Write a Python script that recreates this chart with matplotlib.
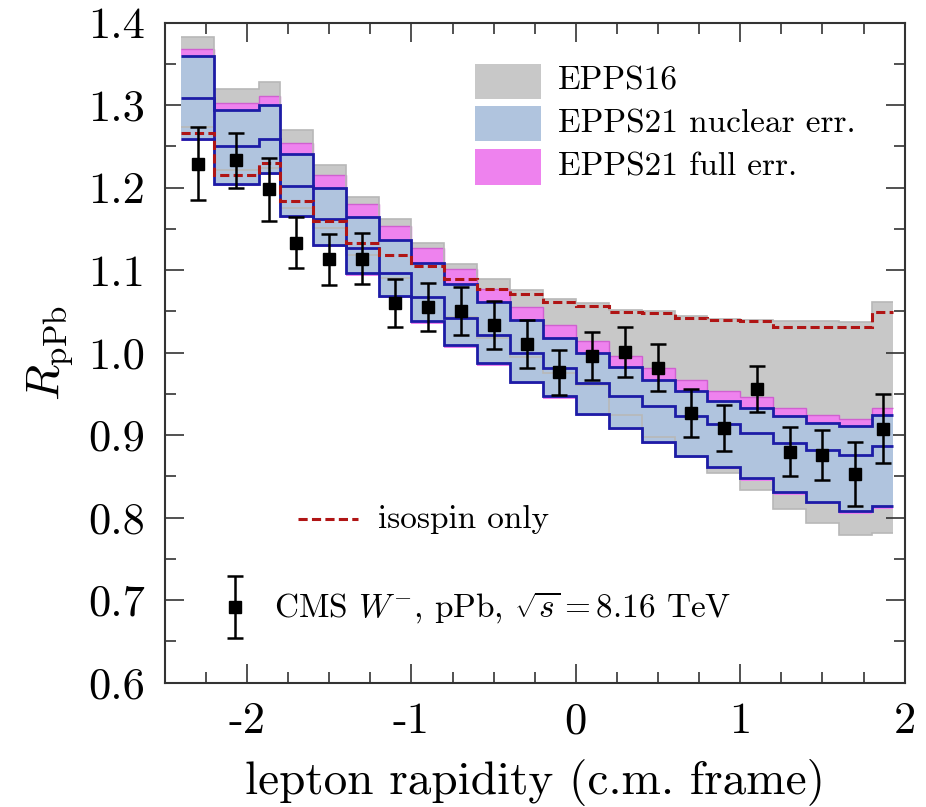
import numpy as np
import matplotlib
matplotlib.use("Agg")
import matplotlib.pyplot as plt
from matplotlib.patches import Rectangle
from matplotlib.lines import Line2D
from matplotlib.ticker import MultipleLocator, FormatStrFormatter

# lepton rapidity bin edges (c.m. frame)
edges = [-2.4, -2.2, -1.93, -1.8, -1.6, -1.4, -1.2, -1.0, -0.8, -0.6, -0.4,
         -0.2, 0.0, 0.2, 0.4, 0.6, 0.8, 1.0, 1.2, 1.4, 1.6, 1.8, 1.93]

# EPPS16 band
epps16_hi = [1.383, 1.320, 1.328, 1.270, 1.228, 1.189, 1.162, 1.133, 1.108, 1.089, 1.076,
             1.065, 1.060, 1.052, 1.050, 1.044, 1.041, 1.039, 1.038, 1.038, 1.037, 1.061]
epps16_lo = [1.273, 1.221, 1.224, 1.175, 1.151, 1.118, 1.090, 1.066, 1.043, 1.018, 0.995,
             0.975, 0.961, 0.925, 0.898, 0.873, 0.854, 0.833, 0.810, 0.794, 0.779, 0.782]

# EPPS21 full error band
full_hi = [1.368, 1.303, 1.311, 1.254, 1.215, 1.180, 1.154, 1.127, 1.101, 1.077, 1.055,
           1.033, 1.014, 0.996, 0.982, 0.967, 0.954, 0.946, 0.933, 0.925, 0.919, 0.933]
full_lo = [1.256, 1.202, 1.215, 1.163, 1.128, 1.093, 1.066, 1.035, 1.006, 0.984, 0.962,
           0.944, 0.923, 0.906, 0.889, 0.872, 0.859, 0.845, 0.828, 0.816, 0.805, 0.811]

# EPPS21 nuclear error band + central value
nuc_hi = [1.359, 1.294, 1.300, 1.241, 1.200, 1.164, 1.136, 1.109, 1.083, 1.061, 1.040,
          1.018, 0.999, 0.983, 0.967, 0.953, 0.942, 0.933, 0.923, 0.915, 0.911, 0.925]
nuc_c = [1.309, 1.250, 1.259, 1.202, 1.162, 1.127, 1.097, 1.068, 1.042, 1.022, 1.000,
         0.982, 0.963, 0.948, 0.935, 0.923, 0.913, 0.903, 0.891, 0.882, 0.876, 0.887]
nuc_lo = [1.259, 1.205, 1.218, 1.166, 1.131, 1.096, 1.069, 1.038, 1.009, 0.987, 0.965,
          0.947, 0.926, 0.909, 0.892, 0.875, 0.862, 0.848, 0.831, 0.819, 0.808, 0.814]

# isospin effect only
isospin = [1.266, 1.215, 1.230, 1.184, 1.159, 1.133, 1.118, 1.105, 1.089, 1.077, 1.071,
           1.061, 1.056, 1.049, 1.048, 1.042, 1.039, 1.038, 1.031, 1.031, 1.031, 1.049]

# CMS W- data
cms_val = [1.229, 1.233, 1.198, 1.133, 1.113, 1.114, 1.060, 1.055, 1.051, 1.034, 1.010,
           0.976, 0.996, 1.001, 0.982, 0.927, 0.909, 0.956, 0.880, 0.876, 0.853, 0.908]
cms_err = [0.044, 0.033, 0.038, 0.031, 0.031, 0.031, 0.029, 0.029, 0.029, 0.029, 0.029,
           0.027, 0.029, 0.030, 0.029, 0.029, 0.028, 0.028, 0.030, 0.030, 0.039, 0.042]

plt.rcParams["font.family"] = "cmr10"
plt.rcParams["mathtext.fontset"] = "cm"
plt.rcParams["axes.unicode_minus"] = False
plt.rcParams["axes.formatter.use_mathtext"] = True

e = np.array(edges)
xmid = 0.5 * (e[1:] + e[:-1])

fig = plt.figure(figsize=(9.26, 8.07), dpi=100)
ax = fig.add_axes([0.178, 0.154, 0.799, 0.818])

gray, blue, pink = "#c8c8c8", "#b0c4de", "#ee82ee"
dblue, dred = "#1c1ca6", "#b01515"
dash = (0, (3, 1.4))

ax.stairs(epps16_hi, edges, baseline=epps16_lo, fill=True, color=gray, lw=0, zorder=1)
ax.stairs(full_hi, edges, baseline=full_lo, fill=True, color=pink, lw=0, zorder=2)
ax.stairs(full_hi, edges, baseline=None, color="#d060d0", lw=1.0, zorder=2.2)
ax.stairs(nuc_hi, edges, baseline=nuc_lo, fill=True, color=blue, lw=0, zorder=3)
for arr in (epps16_hi, epps16_lo):
    ax.stairs(arr, edges, baseline=None, color="#b8b8b8", lw=1.2, zorder=3.5)
for arr in (nuc_hi, nuc_c, nuc_lo):
    ax.stairs(arr, edges, baseline=None, color=dblue, lw=2.0, zorder=4)
ax.stairs(isospin, edges, baseline=None, color=dred, lw=2.2, ls=dash, zorder=5)

ax.errorbar(xmid, cms_val, yerr=cms_err, fmt="s", color="black", ms=9,
            capsize=6, elinewidth=1.8, capthick=1.8, zorder=6)

# legend boxes
labels = ["EPPS16", "EPPS21 nuclear err.", "EPPS21 full err."]
ys = [0.884, 0.820, 0.754]
for lab, c, y0 in zip(labels, [gray, blue, pink], ys):
    ax.add_patch(Rectangle((0.419, y0), 0.089, 0.054, transform=ax.transAxes,
                           facecolor=c, edgecolor="none", zorder=7))
    ax.text(0.531, y0 + 0.027, lab, transform=ax.transAxes, fontsize=24,
            va="center", ha="left", zorder=7)

ax.add_line(Line2D([0.18, 0.261], [0.248, 0.248], transform=ax.transAxes,
                   color=dred, lw=2.2, ls=dash))
ax.text(0.288, 0.248, "isospin only", transform=ax.transAxes, fontsize=24,
        va="center", ha="left")

ax.errorbar([0.095], [0.115], yerr=[0.047], transform=ax.transAxes, fmt="s",
            color="black", ms=9, capsize=6, elinewidth=1.8, capthick=1.8)
ax.text(0.148, 0.115, r"CMS $W^{-}$, pPb, $\sqrt{s} = 8.16$ TeV",
        transform=ax.transAxes, fontsize=24, va="center", ha="left")

ax.set_xlim(-2.5, 2.0)
ax.set_ylim(0.6, 1.4)
ax.xaxis.set_major_locator(MultipleLocator(1))
ax.xaxis.set_minor_locator(MultipleLocator(0.25))
ax.yaxis.set_major_locator(MultipleLocator(0.1))
ax.yaxis.set_minor_locator(MultipleLocator(0.05))
ax.xaxis.set_major_formatter(FormatStrFormatter("%d"))
ax.yaxis.set_major_formatter(FormatStrFormatter("%.1f"))
ax.tick_params(which="both", direction="in", top=True, right=True,
               labelsize=32, width=1.2, color="#333333")
ax.tick_params(which="major", length=14, pad=14)
ax.tick_params(which="minor", length=8)
for s in ax.spines.values():
    s.set_linewidth(1.5)
    s.set_color("#333333")

ax.set_xlabel("lepton rapidity (c.m. frame)", fontsize=34, labelpad=12)
ax.set_ylabel(r"$R_{\rm pPb}$", fontsize=34, labelpad=10)

fig.savefig("out.png", dpi=100)
